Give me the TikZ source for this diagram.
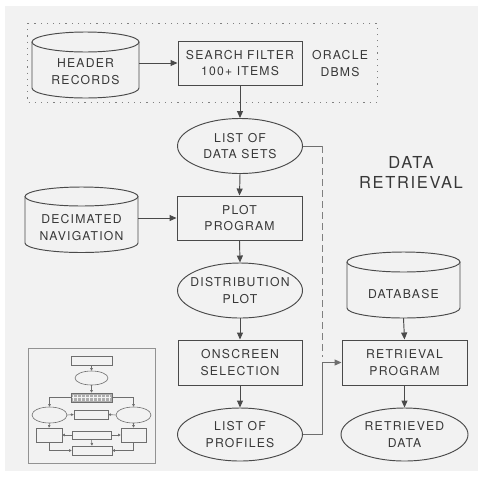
\documentclass[tikz,border=0pt]{standalone}
\usepackage{fontspec}
\usetikzlibrary{shapes.geometric,arrows.meta,calc}
\newfontfamily\lab{TeX Gyre Heros}[LetterSpace=10]
\definecolor{panel}{HTML}{F2F2F2}
\definecolor{ink}{HTML}{4A4A4A}
\definecolor{txt}{HTML}{383838}
\tikzset{
  ln/.style={draw=ink,line width=0.95pt},
  arr/.style={ln,-{Triangle[length=7pt,width=6pt]}},
  boxnode/.style={ln,rectangle,inner sep=0pt},
  ellnode/.style={ln,ellipse,inner sep=0pt},
  bodynode/.style={rectangle,inner sep=0pt,draw=none},
  lbl/.style={text=txt,align=center,font=\lab\fontsize{12.2}{16.5}\selectfont,inner sep=0pt},
  big/.style={text=txt,align=center,font=\lab\fontsize{16.5}{20}\selectfont,inner sep=0pt},
  tl/.style={draw=ink!80,line width=0.6pt},
  tarr/.style={tl,-{Triangle[length=2.5pt,width=2.5pt]}},
  tbox/.style={tl,rectangle,inner sep=0pt},
  tell/.style={tl,ellipse,inner sep=0pt},
}
\newcommand{\cylpath}[5]{% cx, rx, ytop, ybot, ry
  \draw[ln,fill=panel] (#1-#2,#3) -- (#1-#2,#4) arc[start angle=180,end angle=0,x radius=#2,y radius=#5] -- (#1+#2,#3);
  \draw[ln,fill=panel] (#1,#3) ellipse [x radius=#2,y radius=#5];
}
\begin{document}
\begin{tikzpicture}[x=1pt,y=-1pt]
\useasboundingbox (0,0) rectangle (478,477);
\fill[white] (0,0) rectangle (478,477);
\fill[panel] (5,6) rectangle (478,471);

% dotted region
\draw[draw=ink!70,line width=0.9pt,dash pattern=on 1.2pt off 5pt] (27,23) rectangle (377,102);

% cylinders
\cylpath{85.5}{53.5}{42}{88}{10}
\node[bodynode,minimum width=107pt,minimum height=66pt] (hdr) at (85.5,65) {};
\node[lbl] (hdrt) at (85.5,71.5) {HEADER\\RECORDS};

\cylpath{81.5}{56.5}{196.5}{243}{9.5}
\node[bodynode,minimum width=113pt,minimum height=65pt] (dec) at (81.5,219.5) {};
\node[lbl] (dect) at (81.5,227.5) {DECIMATED\\NAVIGATION};

\cylpath{403.5}{56.5}{262}{308}{10}
\node[bodynode,minimum width=113pt,minimum height=66pt] (db) at (403.5,285) {};
\node[lbl] (dbt) at (403.5,294) {DATABASE};

% boxes
\node[boxnode,minimum width=124pt,minimum height=44pt] (search) at (240,63) {};
\node[lbl] at (search) {SEARCH FILTER\\100+ ITEMS};
\node[lbl] (oracle) at (340,63.5) {ORACLE\\DBMS};

\node[boxnode,minimum width=125pt,minimum height=44pt] (plot) at (239.5,218) {};
\node[lbl] at (plot) {PLOT\\PROGRAM};

\node[boxnode,minimum width=124pt,minimum height=45pt] (onscr) at (240,362.5) {};
\node[lbl] at (onscr) {ONSCREEN\\SELECTION};

\node[boxnode,minimum width=125pt,minimum height=45pt] (retr) at (404.5,362.5) {};
\node[lbl] at (retr) {RETRIEVAL\\PROGRAM};

% ellipses
\node[ellnode,minimum width=125pt,minimum height=55pt] (list) at (240,146) {};
\node[lbl] at (list) {LIST OF\\DATA SETS};

\node[ellnode,minimum width=125pt,minimum height=55pt] (dist) at (240,290.5) {};
\node[lbl] at (dist) {DISTRIBUTION\\PLOT};

\node[ellnode,minimum width=125pt,minimum height=53pt] (prof) at (240,434.5) {};
\node[lbl] at (prof) {LIST OF\\PROFILES};

\node[ellnode,minimum width=127pt,minimum height=53pt] (rdata) at (404.5,434.5) {};
\node[lbl] at (rdata) {RETRIEVED\\DATA};

\node[big] (title) at (411,172) {DATA\\RETRIEVAL};

% connectors
\draw[arr] (hdr.east |- search.west) -- (search.west);
\draw[arr] (search.south) -- (list.north);
\draw[arr] (list.south) -- (plot.north);
\draw[arr] (dec.east |- plot.west) -- (plot.west);
\draw[arr] (plot.south) -- (dist.north);
\draw[arr] (dist.south) -- (onscr.north);
\draw[arr] (onscr.south) -- (prof.north);
\draw[arr] (db.south) -- (retr.north);
\draw[arr] (retr.south) -- (rdata.north);
\coordinate (jn) at (322,362.5);
\draw[ln,draw=ink!80] (list.east) -- (list.east -| jn);
\draw[ln,draw=ink!70,dash pattern=on 7pt off 4pt] (list.east -| jn) -- ($(jn)+(0,-6)$);
\draw[ln,draw=ink!80] (prof.east) -- (prof.east -| jn) -- (jn);
\draw[arr,draw=ink!80] (jn) -- (retr.west);

% thumbnail
\draw[draw=ink!60,line width=0.8pt] (28,348) rectangle (155,463);
\node[tbox,minimum width=41pt,minimum height=9pt] (t1) at (91.5,360.5) {};
\node[tell,minimum width=33pt,minimum height=14pt] (t2) at (91.5,378) {};
\node[tbox,fill=ink!45,minimum width=41pt,minimum height=9pt] (t3) at (91.5,397.5) {};
\foreach \i in {0,...,9} {\draw[draw=panel!90,line width=0.5pt] (73+\i*4,394.5) -- (73+\i*4,400.5);}
\draw[draw=panel!90,line width=0.5pt] (72,397.5) -- (111,397.5);
\node[tell,minimum width=35pt,minimum height=16pt] (tL) at (49.5,415) {};
\node[tell,minimum width=35pt,minimum height=16pt] (tR) at (133.5,415) {};
\node[tbox,minimum width=34pt,minimum height=9pt] (tM) at (91,414.5) {};
\node[tbox,minimum width=26pt,minimum height=14pt] (tL2) at (49,435) {};
\node[tbox,minimum width=25pt,minimum height=14pt] (tR2) at (133.5,435) {};
\node[tbox,minimum width=39pt,minimum height=8pt] (tM2) at (91.5,435) {};
\node[tbox,minimum width=40pt,minimum height=9pt] (tB) at (92,450.5) {};
\draw[tarr] (t1.south) -- (t2.north);
\draw[tarr] (t2.south) -- (t3.north);
\draw[tarr] (t3.west) -| (tL.north);
\draw[tarr] (t3.east) -| (tR.north);
\draw[tarr] (tL.east) -- (tM.west);
\draw[tarr] (tR.west) -- (tM.east);
\draw[tarr] (tL.south) -- (tL2.north);
\draw[tarr] (tR.south) -- (tR2.north);
\draw[tarr] (tM2.west) -- (tL2.east |- tM2.west);
\draw[tarr] (tM2.east) -- (tR2.west |- tM2.east);
\draw[tarr] (tM2.south) -- (tB.north);
\draw[tarr] (tL2.south) |- (tB.west);
\draw[tarr] (tR2.south) |- (tB.east);
\end{tikzpicture}
\end{document}
